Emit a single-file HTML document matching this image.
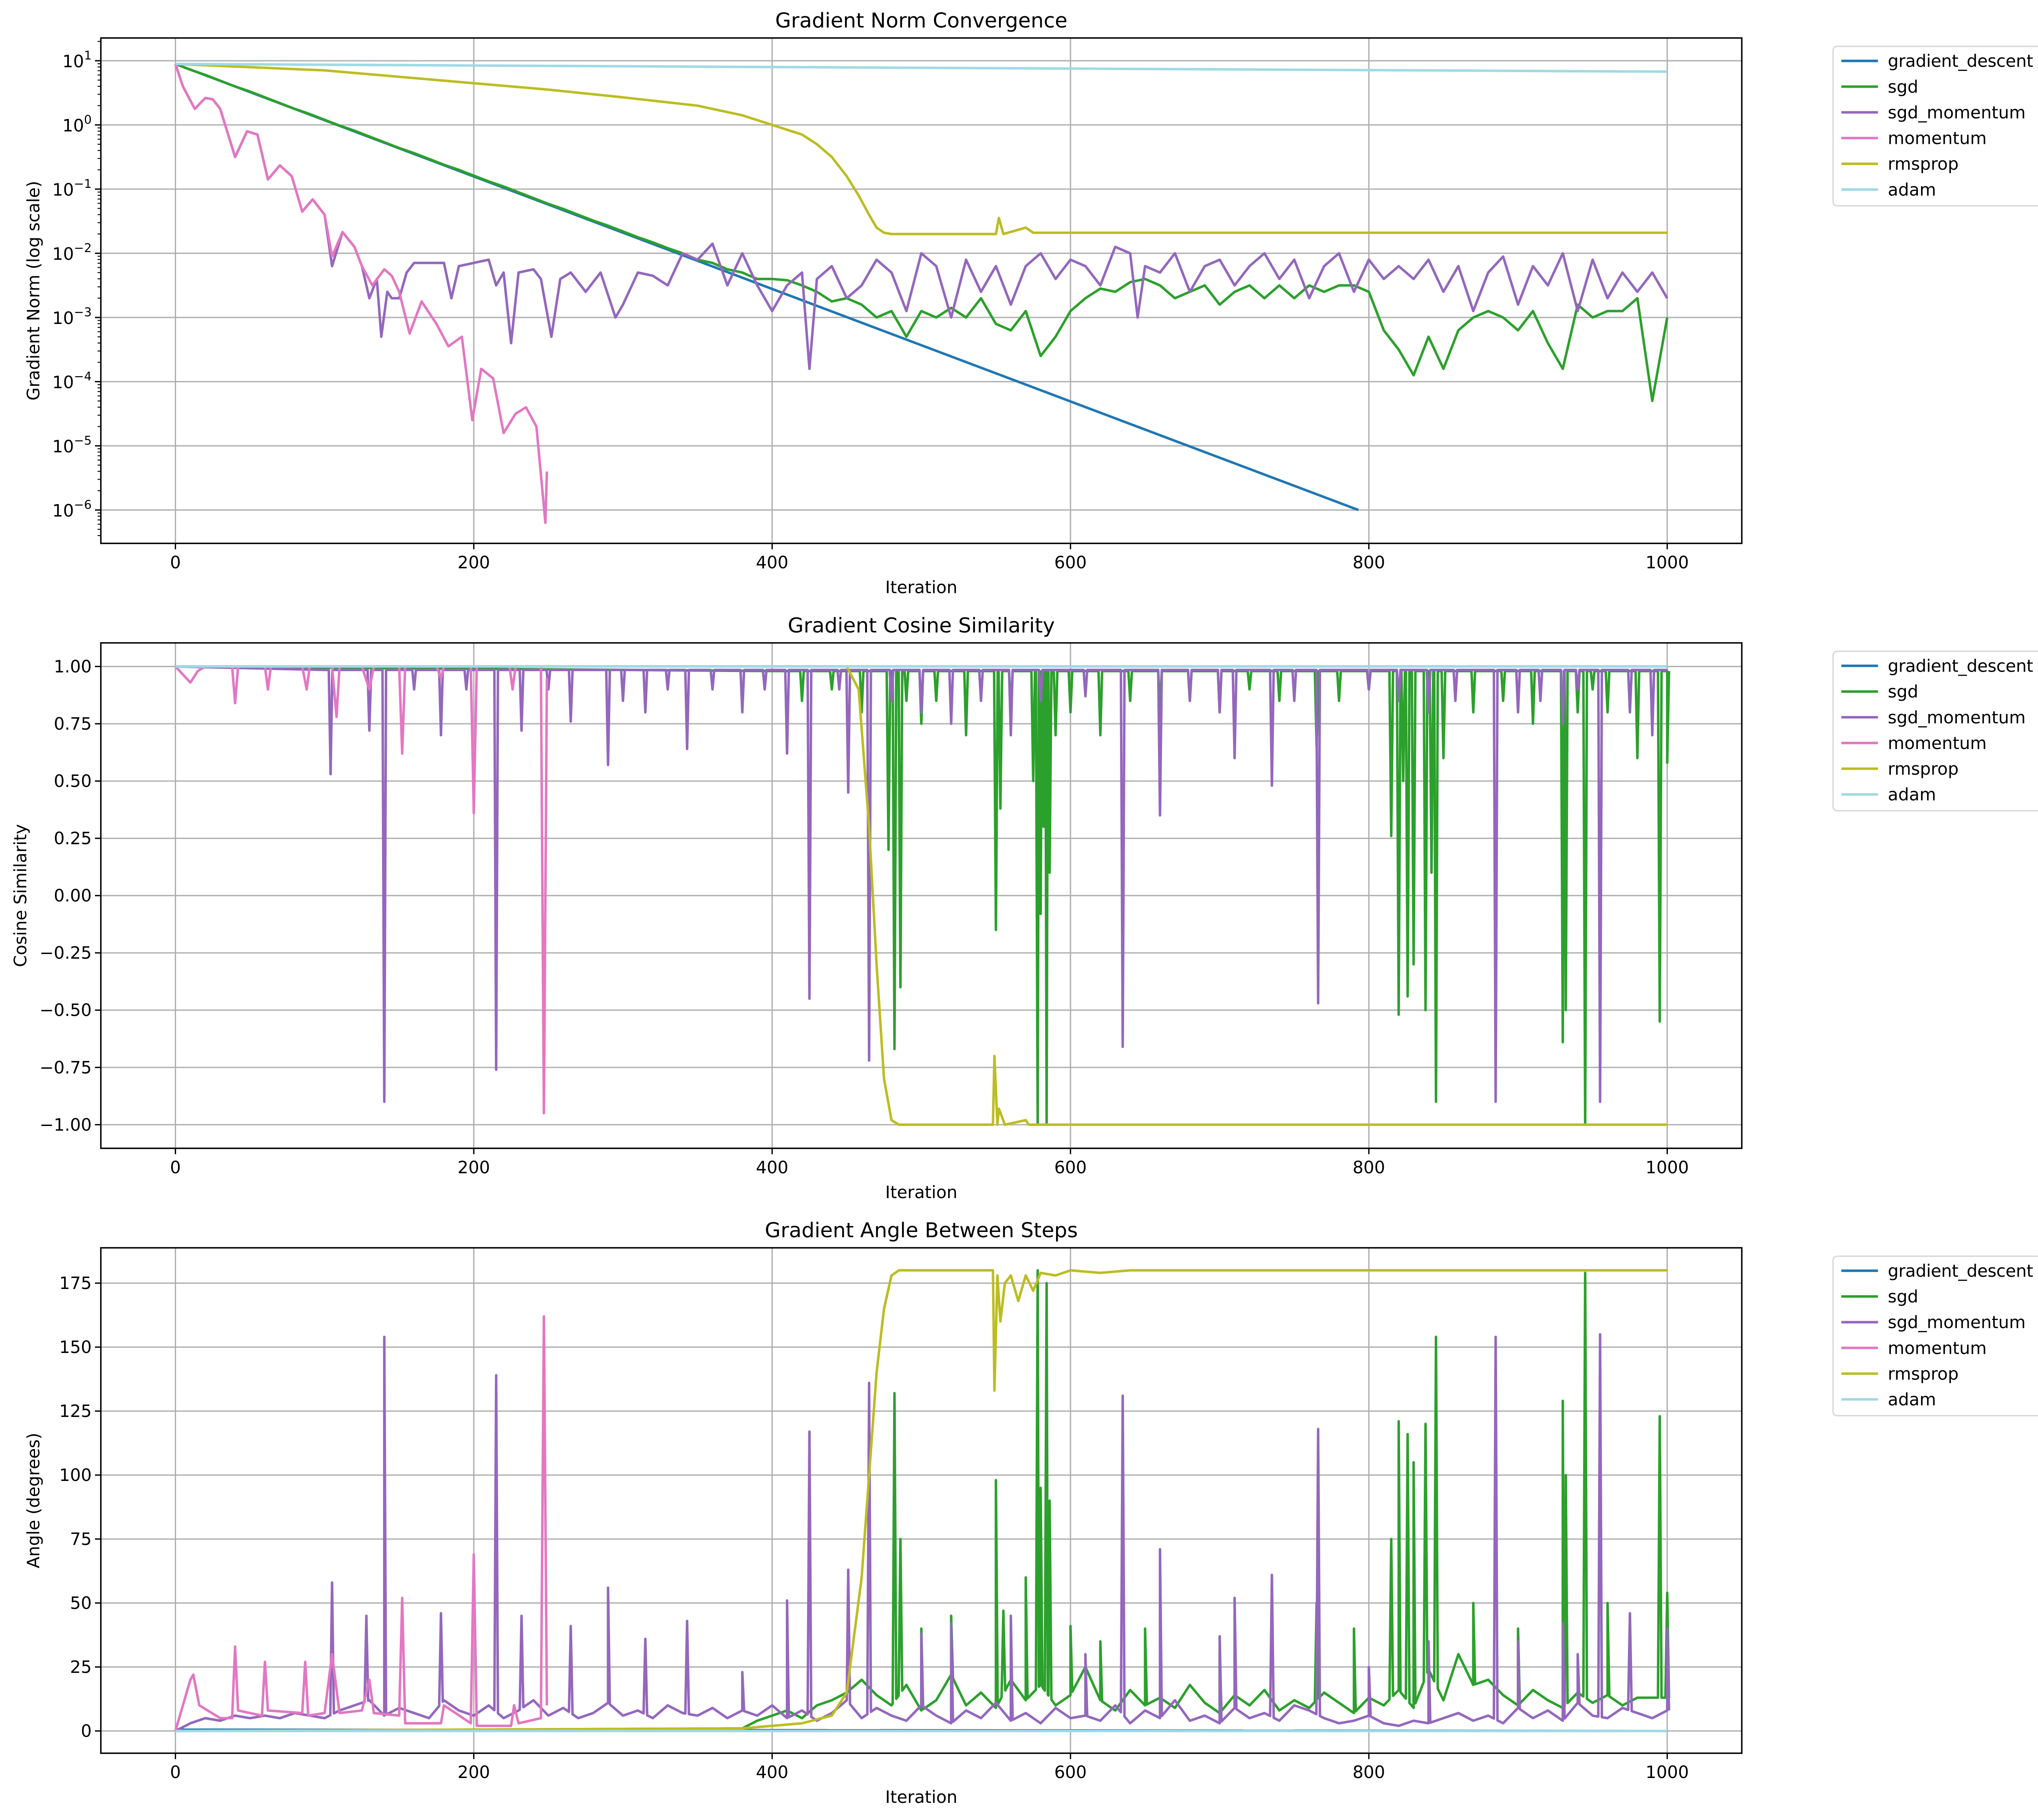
<!DOCTYPE html>
<html><head><meta charset="utf-8"><style>
html,body{margin:0;padding:0;background:#fff;overflow:hidden}
svg{display:block}
text{font-family:"DejaVu Sans","Liberation Sans",sans-serif;fill:#000}
</style></head><body>
<svg id="fig" width="5038" height="4466" viewBox="0 0 1568 1390" preserveAspectRatio="none" xmlns="http://www.w3.org/2000/svg">
<rect x="0" y="0" width="1568" height="1390" fill="#fff"/>
</svg>
<script>
// ===== data =====
const seriesNames = ["gradient_descent","sgd","sgd_momentum","momentum","rmsprop","adam"];
const seriesColors = ["#1f77b4","#2ca02c","#9467bd","#e377c2","#bcbd22","#9edae5"];
const xTicks = [0,200,400,600,800,1000];

// --- panel 1: gradient norm (log10 values) ---
const gdNormX = [0,793];
const gdNormLog = [0.95,-6];
const sgdNormStart = 0;
const sgdNormStep = 10;
const sgdNormLog = [0.95,0.86,0.78,0.69,0.60,0.52,0.43,0.34,0.25,0.17,0.08,-0.01,-0.09,-0.18,-0.27,-0.36,-0.44,-0.53,-0.62,-0.70,-0.79,-0.88,-0.96,-1.05,-1.14,-1.23,-1.31,-1.40,-1.49,-1.57,-1.66,-1.75,-1.83,-1.92,-2.0,-2.1,-2.15,-2.25,-2.3,-2.4,-2.4,-2.42,-2.5,-2.6,-2.75,-2.7,-2.8,-3.0,-2.9,-3.3,-2.9,-3.0,-2.85,-3.0,-2.7,-3.1,-3.2,-2.9,-3.6,-3.3,-2.9,-2.7,-2.55,-2.6,-2.45,-2.4,-2.5,-2.7,-2.6,-2.5,-2.8,-2.6,-2.5,-2.7,-2.5,-2.7,-2.5,-2.6,-2.5,-2.5,-2.6,-3.2,-3.5,-3.9,-3.3,-3.8,-3.2,-3.0,-2.9,-3.0,-3.2,-2.9,-3.4,-3.8,-2.8,-3.0,-2.9,-2.9,-2.7,-4.3,-3.0];
const momNormX = [0,5,13,20,25,30,40,48,55,62,70,78,85,92,100,105,112,120,125,132,140,145,150,157,165,175,183,192,199,205,213,220,228,235,242,248,249];
const momNormLog = [0.95,0.6,0.25,0.42,0.4,0.25,-0.5,-0.1,-0.15,-0.85,-0.63,-0.8,-1.35,-1.16,-1.4,-2.05,-1.67,-1.9,-2.2,-2.5,-2.25,-2.35,-2.6,-3.25,-2.75,-3.1,-3.45,-3.3,-4.6,-3.8,-3.95,-4.8,-4.5,-4.4,-4.7,-6.2,-5.4];
const sgdmNormX = [0,5,13,20,25,30,40,48,55,62,70,78,85,92,100,105,112,120,125,130,135,138,142,145,150,155,160,170,180,185,190,200,210,215,220,225,230,240,245,252,258,265,275,285,295,300,310,320,330,340,350,360,370,380,390,400,410,420,425,430,440,450,460,470,480,490,500,510,520,530,540,550,560,570,580,590,600,610,620,630,640,645,650,660,670,680,690,700,710,720,730,740,750,760,770,780,790,800,810,820,830,840,850,860,870,880,890,900,910,920,930,940,950,960,970,980,990,1000];
const sgdmNormLog = [0.95,0.6,0.25,0.42,0.4,0.25,-0.5,-0.1,-0.15,-0.85,-0.63,-0.8,-1.35,-1.16,-1.4,-2.2,-1.67,-1.9,-2.2,-2.7,-2.4,-3.3,-2.6,-2.7,-2.7,-2.3,-2.15,-2.15,-2.15,-2.7,-2.2,-2.15,-2.1,-2.5,-2.3,-3.4,-2.3,-2.25,-2.4,-3.3,-2.4,-2.3,-2.6,-2.3,-3.0,-2.8,-2.3,-2.35,-2.5,-2.0,-2.1,-1.85,-2.5,-2.0,-2.5,-2.9,-2.5,-2.3,-3.8,-2.4,-2.2,-2.7,-2.5,-2.1,-2.3,-2.9,-2.0,-2.2,-3.0,-2.1,-2.6,-2.2,-2.8,-2.2,-2.0,-2.4,-2.1,-2.2,-2.5,-1.9,-2.0,-3.0,-2.2,-2.3,-2.0,-2.6,-2.2,-2.1,-2.5,-2.2,-2.0,-2.4,-2.1,-2.7,-2.2,-2.0,-2.6,-2.1,-2.4,-2.2,-2.4,-2.1,-2.6,-2.2,-2.9,-2.3,-2.05,-2.8,-2.2,-2.5,-2.0,-2.9,-2.1,-2.7,-2.3,-2.6,-2.3,-2.7];
const rmsNormX = [0,100,200,250,300,350,380,400,420,430,440,450,458,465,470,475,480,550,552,555,570,575,1000];
const rmsNormLog = [0.95,0.85,0.65,0.55,0.43,0.3,0.15,0.0,-0.15,-0.3,-0.5,-0.8,-1.1,-1.4,-1.6,-1.68,-1.7,-1.7,-1.45,-1.7,-1.6,-1.68,-1.68];
const adamNormX = [0,1000];
const adamNormLog = [0.95,0.83];

// --- panel 2: cosine similarity ---
const gdCosX = [0,1000]; const gdCosY = [1,1];
const adamCosX = [0,1000]; const adamCosY = [1,1];
const rmsCosX = [0,450,458,465,470,475,480,485,548,549,551,552,556,570,572,1000];
const rmsCosY = [1,1,0.9,0.3,-0.3,-0.8,-0.98,-1,-1,-0.7,-1,-0.93,-1,-0.98,-1,-1];
const momCosX = [0,10,15,20,38,40,42,60,62,64,85,88,90,105,108,110,125,130,133,150,152,154,175,178,180,198,200,202,224,226,228,245,247,249];
const momCosY = [1,0.93,0.98,1,1,0.84,1,1,0.9,1,1,0.9,1,1,0.78,1,1,0.9,1,1,0.62,1,1,0.95,1,1,0.36,1,1,0.9,1,1,-0.95,0.95];
const sgdmCosBase = 0.985;
const sgdmCosSpikeX = [104,130,140,160,178,195,215,232,250,265,290,300,315,330,343,360,380,395,410,425,445,451,465,480,500,520,540,560,580,610,635,660,680,700,710,735,750,766,800,820,840,858,885,900,915,930,940,955,975,990];
const sgdmCosSpikeY = [0.53,0.72,-0.9,0.9,0.7,0.9,-0.76,0.72,0.9,0.76,0.57,0.85,0.8,0.9,0.64,0.9,0.8,0.9,0.62,-0.45,0.9,0.45,-0.72,0.85,0.8,0.75,0.85,0.7,0.85,0.87,-0.66,0.35,0.85,0.8,0.6,0.48,0.85,-0.47,0.9,0.85,0.8,0.85,-0.9,0.8,0.85,0.75,0.9,-0.9,0.8,0.7];
const sgdCosBase = 0.98;
const sgdCosSpikeX = [420,440,460,478,482,486,490,500,510,530,550,553,560,575,578,580,582,584,586,590,600,620,640,660,680,700,720,740,765,780,800,815,820,823,826,830,838,842,845,850,870,890,910,930,932,940,945,950,960,980,995,1000];
const sgdCosSpikeY = [0.85,0.9,0.8,0.2,-0.67,-0.4,0.85,0.75,0.85,0.7,-0.15,0.38,0.8,0.5,-1,-0.08,0.3,-1,0.1,0.7,0.8,0.7,0.85,0.8,0.85,0.8,0.9,0.85,0.65,0.85,0.9,0.26,-0.52,0.5,-0.44,-0.3,-0.5,0.1,-0.9,0.6,0.8,0.85,0.75,-0.64,-0.5,0.8,-1,0.9,0.8,0.6,-0.55,0.58];

// --- panel 3: angle (degrees) ---
const gdAngX = [0,1000]; const gdAngY = [0.5,0];
const adamAngX = [0,1000]; const adamAngY = [0,0];
const rmsAngX = [0,380,420,440,450,460,465,470,475,480,485,548,549,551,553,556,560,565,570,575,580,590,600,620,640,1000];
const rmsAngY = [0,1,3,6,15,60,100,140,165,178,180,180,133,178,160,175,178,168,178,172,179,178,180,179,180,180];
const momAngX = [0,10,12,16,30,38,40,42,58,60,62,85,87,89,100,105,110,125,130,133,150,152,154,178,180,198,200,202,225,227,230,245,247,249];
const momAngY = [0,20,22,10,5,5,33,8,6,27,8,7,27,6,7,30,7,8,20,7,6,52,3,3,10,3,69,2,2,10,3,5,162,10];
const sgdmAngBaseStart = 0;
const sgdmAngBaseStep = 10;
const sgdmAngBase = [0,3,5,4,6,5,6,5,7,6,5,8,10,12,6,9,7,5,12,8,6,10,5,8,12,6,9,5,7,11,6,8,5,10,7,6,9,5,8,6,10,5,8,4,7,12,5,9,6,4,10,6,3,8,5,11,4,7,3,9,5,6,4,10,3,8,5,12,4,6,3,9,5,7,4,10,8,5,3,4,6,3,2,4,3,5,7,4,6,3,9,5,8,4,11,6,5,9,7,5,8];
const sgdmAngSpikeX = [105,128,140,178,215,232,265,290,315,343,380,410,425,451,465,500,520,560,610,635,660,700,710,735,766,800,840,885,900,930,940,955,975,1000];
const sgdmAngSpikeY = [58,45,154,46,139,45,41,56,36,43,23,51,117,63,136,38,42,45,30,131,71,37,52,61,118,25,35,154,35,42,30,155,46,40];
const sgdAngBaseStart = 380;
const sgdAngBaseStep = 10;
const sgdAngBase = [1,4,6,8,5,10,12,15,20,14,10,18,8,12,22,10,15,9,20,12,18,10,14,25,12,8,16,10,13,9,18,11,7,14,10,16,8,12,9,15,11,7,13,10,16,9,24,12,30,18,20,14,10,16,12,9,15,11,14,10,13];
const sgdAngSpikeX = [482,486,500,520,550,555,570,578,580,584,586,600,620,650,700,765,790,815,820,826,830,838,845,870,900,930,932,945,960,995,1000];
const sgdAngSpikeY = [132,75,40,45,98,47,60,180,95,175,90,41,35,40,30,50,40,75,121,116,105,120,154,50,40,129,100,179,50,123,54];

// ===== geometry =====
const NS = "http://www.w3.org/2000/svg";
const svg = document.getElementById("fig");
const AX_L = 77, AX_R = 1330;
const FS = 13;
const panels = [
  {top:29, bottom:415, title:"Gradient Norm Convergence", ylabel:"Gradient Norm (log scale)", ymin:-6.52, ymax:1.355, name:"norm"},
  {top:491, bottom:877, title:"Gradient Cosine Similarity", ylabel:"Cosine Similarity", ymin:-1.103, ymax:1.103, name:"cosine"},
  {top:953, bottom:1339, title:"Gradient Angle Between Steps", ylabel:"Angle (degrees)", ymin:-8.7, ymax:188.8, name:"angle"}
];
const XMIN = -50, XMAX = 1050;
function xs(v){ return AX_L + (v - XMIN) / (XMAX - XMIN) * (AX_R - AX_L); }
function ysFor(p){ return v => p.bottom - (v - p.ymin) / (p.ymax - p.ymin) * (p.bottom - p.top); }

function mk(tag, attrs, parent){
  const e = document.createElementNS(NS, tag);
  for (const k in attrs) e.setAttribute(k, attrs[k]);
  (parent || svg).appendChild(e);
  return e;
}
function stepX(start, step, n){ const a=[]; for(let i=0;i<n;i++) a.push(start+step*i); return a; }
function interp(xa, ya, x){
  if (x <= xa[0]) return ya[0];
  for (let i=1;i<xa.length;i++){ if (x <= xa[i]) { const t=(x-xa[i-1])/(xa[i]-xa[i-1]); return ya[i-1]+t*(ya[i]-ya[i-1]); } }
  return ya[ya.length-1];
}
function spiky(bx, by, sx, sy){
  const pts = bx.map((x,i)=>[x,by[i]]);
  sx.forEach((x,i)=>{ pts.push([x-1.2, interp(bx,by,x-1.2)]); pts.push([x, sy[i]]); pts.push([x+1.2, interp(bx,by,x+1.2)]); });
  pts.sort((a,b)=>a[0]-b[0]);
  return [pts.map(p=>p[0]), pts.map(p=>p[1])];
}

function drawLine(g, X, Y, ys, color, nm){
  let d = "";
  X.forEach((x,i)=>{ d += (i? "L":"M") + xs(x).toFixed(2) + "," + ys(Y[i]).toFixed(2); });
  const p = mk("path", {d:d, fill:"none", stroke:color, "stroke-width":1.9, "stroke-linejoin":"round"}, g);
  
  
}

panels.forEach((p, pi) => {
  const ys = ysFor(p);
  const g = mk("g", {});
  
  
  const clipId = "clip" + pi;
  const cp = mk("clipPath", {id:clipId}, g);
  mk("rect", {x:AX_L, y:p.top, width:AX_R-AX_L, height:p.bottom-p.top}, cp);

  xTicks.forEach(t => {
    const X = xs(t);
    mk("line", {x1:X, x2:X, y1:p.top, y2:p.bottom, stroke:"#b0b0b0", "stroke-width":1}, g);
    mk("line", {x1:X, x2:X, y1:p.bottom, y2:p.bottom+4.5, stroke:"#000", "stroke-width":1}, g);
    const tx = mk("text", {x:X, y:p.bottom+19, "font-size":FS, "text-anchor":"middle"}, g);
    tx.textContent = t;
    
    
  });
  if (pi === 0) {
    for (let e = 1; e >= -6; e--) {
      const Y = ys(e);
      mk("line", {x1:AX_L, x2:AX_R, y1:Y, y2:Y, stroke:"#b0b0b0", "stroke-width":1}, g);
      mk("line", {x1:AX_L-4.5, x2:AX_L, y1:Y, y2:Y, stroke:"#000", "stroke-width":1}, g);
      const tx = mk("text", {x:AX_L-7, y:Y+5, "font-size":FS, "text-anchor":"end"}, g);
      
      
      const base = document.createElementNS(NS,"tspan"); base.textContent = "10"; tx.appendChild(base);
      const sup = document.createElementNS(NS,"tspan"); sup.setAttribute("dy","-6"); sup.setAttribute("font-size","9.2");
      sup.textContent = (e<0 ? "\u2212" + (-e) : String(e)); tx.appendChild(sup);
    }
    for (let e = 1; e >= -7; e--) {
      for (let m = 2; m <= 9; m++) {
        const v = e + Math.log10(m);
        if (v > p.ymax || v < p.ymin) continue;
        const Y = ys(v);
        mk("line", {x1:AX_L-2.5, x2:AX_L, y1:Y, y2:Y, stroke:"#000", "stroke-width":0.7}, g);
      }
    }
  } else {
    const ticks = pi === 1 ? [1,0.75,0.5,0.25,0,-0.25,-0.5,-0.75,-1] : [0,25,50,75,100,125,150,175];
    ticks.forEach(t => {
      const Y = ys(t);
      mk("line", {x1:AX_L, x2:AX_R, y1:Y, y2:Y, stroke:"#b0b0b0", "stroke-width":1}, g);
      mk("line", {x1:AX_L-4.5, x2:AX_L, y1:Y, y2:Y, stroke:"#000", "stroke-width":1}, g);
      const tx = mk("text", {x:AX_L-7, y:Y+4.5, "font-size":FS, "text-anchor":"end"}, g);
      tx.textContent = pi === 1 ? t.toFixed(2).replace("-", "\u2212") : t;
      
      
    });
  }

  const lg = mk("g", {"clip-path":"url(#"+clipId+")"}, g);
  
  
  if (pi === 0) {
    drawLine(lg, gdNormX, gdNormLog, ys, seriesColors[0], "gradient-descent-line");
    drawLine(lg, stepX(sgdNormStart, sgdNormStep, sgdNormLog.length), sgdNormLog, ys, seriesColors[1], "sgd-line");
    drawLine(lg, sgdmNormX, sgdmNormLog, ys, seriesColors[2], "sgd-momentum-line");
    drawLine(lg, momNormX, momNormLog, ys, seriesColors[3], "momentum-line");
    drawLine(lg, rmsNormX, rmsNormLog, ys, seriesColors[4], "rmsprop-line");
    drawLine(lg, adamNormX, adamNormLog, ys, seriesColors[5], "adam-line");
  } else if (pi === 1) {
    drawLine(lg, gdCosX, gdCosY, ys, seriesColors[0], "gradient-descent-line");
    const sg = spiky([0,400,1000],[1,sgdCosBase,sgdCosBase], sgdCosSpikeX, sgdCosSpikeY);
    drawLine(lg, sg[0], sg[1], ys, seriesColors[1], "sgd-line");
    const sm = spiky([0,100,1000],[1,sgdmCosBase,sgdmCosBase], sgdmCosSpikeX, sgdmCosSpikeY);
    drawLine(lg, sm[0], sm[1], ys, seriesColors[2], "sgd-momentum-line");
    drawLine(lg, momCosX, momCosY, ys, seriesColors[3], "momentum-line");
    drawLine(lg, rmsCosX, rmsCosY, ys, seriesColors[4], "rmsprop-line");
    drawLine(lg, adamCosX, adamCosY, ys, seriesColors[5], "adam-line");
  } else {
    drawLine(lg, gdAngX, gdAngY, ys, seriesColors[0], "gradient-descent-line");
    const sbx = [0].concat(stepX(sgdAngBaseStart, sgdAngBaseStep, sgdAngBase.length));
    const sby = [0].concat(sgdAngBase);
    const sg = spiky(sbx, sby, sgdAngSpikeX, sgdAngSpikeY);
    drawLine(lg, sg[0], sg[1], ys, seriesColors[1], "sgd-line");
    const sm = spiky(stepX(sgdmAngBaseStart, sgdmAngBaseStep, sgdmAngBase.length), sgdmAngBase, sgdmAngSpikeX, sgdmAngSpikeY);
    drawLine(lg, sm[0], sm[1], ys, seriesColors[2], "sgd-momentum-line");
    drawLine(lg, momAngX, momAngY, ys, seriesColors[3], "momentum-line");
    drawLine(lg, rmsAngX, rmsAngY, ys, seriesColors[4], "rmsprop-line");
    drawLine(lg, adamAngX, adamAngY, ys, seriesColors[5], "adam-line");
  }

  mk("rect", {x:AX_L, y:p.top, width:AX_R-AX_L, height:p.bottom-p.top, fill:"none", stroke:"#000", "stroke-width":1.1}, g);

  const t = mk("text", {x:(AX_L+AX_R)/2, y:p.top-8, "font-size":15.6, "text-anchor":"middle"}, g);
  t.textContent = p.title;
  
  
  const xl = mk("text", {x:(AX_L+AX_R)/2, y:p.bottom+38, "font-size":FS, "text-anchor":"middle"}, g);
  xl.textContent = "Iteration";
  
  
  const ylx = pi === 1 ? 20 : 30;
  const yl = mk("text", {x:ylx, y:(p.top+p.bottom)/2, "font-size":FS, "text-anchor":"middle", transform:"rotate(-90 "+ylx+" "+((p.top+p.bottom)/2)+")"}, g);
  yl.textContent = p.ylabel;
  
  

  const lgd = mk("g", {}, g);
  
  
  const ly = p.top + 6.4;
  mk("rect", {x:1399.7, y:ly, width:159, height:121.8, rx:3, fill:"#fff", stroke:"#d6d6d6", "stroke-width":1}, lgd);
  seriesNames.forEach((nm, i) => {
    const yy = ly + 11.1 + i*19.65;
    const ln = mk("line", {x1:1406, x2:1434, y1:yy, y2:yy, stroke:seriesColors[i], "stroke-width":1.9}, lgd);
    
    
    const tx = mk("text", {x:1441.5, y:yy+4.6, "font-size":FS, textLength: nm === "gradient_descent" ? 111 : null}, lgd);
    if (nm !== "gradient_descent") tx.removeAttribute("textLength");
    tx.textContent = nm;
    
    
  });
});
</script>
</body></html>
